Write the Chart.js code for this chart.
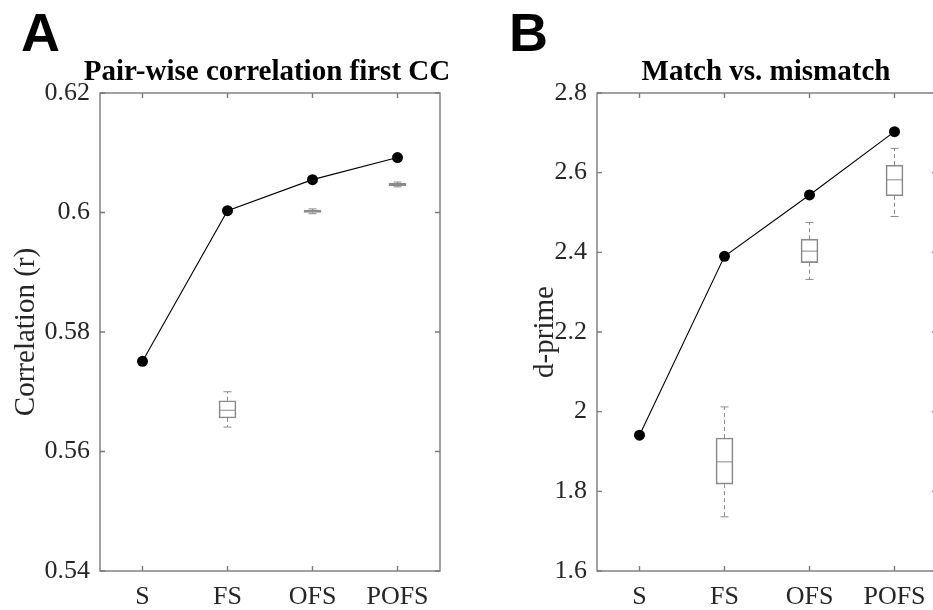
<!DOCTYPE html>
<html><head><meta charset="utf-8">
<script src="https://cdn.jsdelivr.net/npm/chart.js@4.4.0/dist/chart.umd.min.js"></script>
<style>
html,body{margin:0;padding:0;background:#fff;overflow:hidden;width:933px;height:610px;}
#wrap{position:relative;width:933px;height:610px;overflow:hidden;background:#fff;}
.cv{position:absolute;top:0;width:470px;height:610px;}
.letter{position:absolute;font-family:'Liberation Sans',Arial,sans-serif;font-weight:bold;font-size:54px;line-height:1;color:#000;}
.ttl{position:absolute;font-family:'Liberation Serif','Times New Roman',serif;font-weight:bold;font-size:29px;line-height:1;text-align:center;color:#000;white-space:nowrap;width:500px;}
</style></head><body>
<div id="wrap">
<div class="cv" style="left:0;"><canvas id="cA" width="470" height="610"></canvas></div>
<div class="cv" style="left:497px;"><canvas id="cB" width="470" height="610"></canvas></div>
<div class="letter" style="left:21px;top:5px;">A</div>
<div class="letter" style="left:509px;top:5px;">B</div>
<div class="ttl" style="left:17px;top:56px;">Pair-wise correlation first CC</div>
<div class="ttl" style="left:516px;top:56px;">Match vs. mismatch</div>
</div>
<script>
// ---- data ----
const categories = ['S', 'FS', 'OFS', 'POFS'];

// Panel A: pair-wise correlation first CC
const corrLine = [0.5751, 0.6003, 0.6055, 0.6092];
const corrMin  = [null, 0.5641, 0.5998, 0.6043];
const corrQ1   = [null, 0.5656, 0.6000, 0.6045];
const corrMed  = [null, 0.5669, 0.6002, 0.6047];
const corrQ3   = [null, 0.5685, 0.6004, 0.6049];
const corrMax  = [null, 0.5700, 0.6006, 0.6051];
const corrTicks = [0.54, 0.56, 0.58, 0.6, 0.62];

// Panel B: match vs. mismatch (d-prime)
const dLine = [1.941, 2.390, 2.544, 2.703];
const dMin  = [null, 1.736, 2.332, 2.490];
const dQ1   = [null, 1.818, 2.374, 2.542];
const dMed  = [null, 1.874, 2.403, 2.582];
const dQ3   = [null, 1.934, 2.433, 2.619];
const dMax  = [null, 2.012, 2.475, 2.661];
const dTicks = [1.6, 1.8, 2, 2.2, 2.4, 2.6, 2.8];

// ---- plugins ----
const BOXCOL = '#8a8a8a';
const boxExtras = {
  id: 'boxExtras',
  afterDatasetsDraw(chart, args, opts) {
    const {ctx, scales: {x, y}} = chart;
    ctx.save();
    ctx.strokeStyle = BOXCOL;
    ctx.lineWidth = 1;
    const half = 8.5, cap = 4;
    opts.med.forEach((m, i) => {
      if (m == null) return;
      const px = x.getPixelForValue(i);
      const yMed = y.getPixelForValue(m);
      const yMin = y.getPixelForValue(opts.min[i]);
      const yMax = y.getPixelForValue(opts.max[i]);
      const yQ1 = y.getPixelForValue(opts.q1[i]);
      const yQ3 = y.getPixelForValue(opts.q3[i]);
      ctx.setLineDash([]);
      ctx.beginPath();
      ctx.moveTo(px - half, yMed); ctx.lineTo(px + half, yMed);
      ctx.stroke();
      ctx.setLineDash([4, 3]);
      ctx.beginPath();
      ctx.moveTo(px, yQ3); ctx.lineTo(px, yMax);
      ctx.moveTo(px, yQ1); ctx.lineTo(px, yMin);
      ctx.stroke();
      ctx.setLineDash([]);
      ctx.beginPath();
      ctx.moveTo(px - cap, yMax); ctx.lineTo(px + cap, yMax);
      ctx.moveTo(px - cap, yMin); ctx.lineTo(px + cap, yMin);
      ctx.stroke();
    });
    ctx.restore();
  }
};

const framePlugin = {
  id: 'frame',
  afterDraw(chart) {
    const {ctx, chartArea: a, scales: {x, y}} = chart;
    ctx.save();
    ctx.strokeStyle = '#7a7a7a';
    ctx.lineWidth = 1.4;
    ctx.strokeRect(a.left, a.top, a.right - a.left, a.bottom - a.top);
    ctx.beginPath();
    const L = 5;
    x.ticks.forEach((t, i) => {
      const px = x.getPixelForTick(i);
      ctx.moveTo(px, a.bottom); ctx.lineTo(px, a.bottom - L);
      ctx.moveTo(px, a.top); ctx.lineTo(px, a.top + L);
    });
    y.ticks.forEach((t, i) => {
      const py = y.getPixelForTick(i);
      ctx.moveTo(a.left, py); ctx.lineTo(a.left + L, py);
      ctx.moveTo(a.right, py); ctx.lineTo(a.right - L, py);
    });
    ctx.stroke();
    ctx.restore();
  }
};

const SERIF = "'Liberation Serif','Times New Roman',serif";
const TXT = '#262626';

function makeChart(id, line, mn, q1, md, q3, mx, ticks, yTitle, titlePad) {
  const boxData = categories.map((c, i) => q1[i] == null ? null : [q1[i], q3[i]]);
  return new Chart(document.getElementById(id), {
    type: 'bar',
    data: {
      labels: categories,
      datasets: [
        {
          type: 'line',
          data: line,
          borderColor: '#000',
          borderWidth: 1.1,
          pointRadius: 5.5,
          pointHoverRadius: 5.5,
          pointBackgroundColor: '#000',
          pointBorderColor: '#000',
          pointBorderWidth: 0,
          tension: 0,
          order: 0
        },
        {
          type: 'bar',
          data: boxData,
          backgroundColor: 'rgba(0,0,0,0)',
          borderColor: BOXCOL,
          borderWidth: 1,
          borderSkipped: false,
          barThickness: 17,
          order: 1
        }
      ]
    },
    options: {
      responsive: false,
      devicePixelRatio: 1,
      animation: false,
      events: [],
      layout: {padding: {top: 93, right: 30, left: 0, bottom: 0}},
      plugins: {
        legend: {display: false},
        tooltip: {enabled: false},
        title: {display: false},
        boxExtras: {min: mn, q1: q1, med: md, q3: q3, max: mx}
      },
      scales: {
        x: {
          type: 'category',
          offset: true,
          grid: {display: false, drawTicks: false},
          border: {display: false},
          ticks: {font: {family: SERIF, size: 26}, color: TXT, padding: 11, maxRotation: 0},
          afterFit(s) { s.height = 39; }
        },
        y: {
          type: 'linear',
          min: ticks[0],
          max: ticks[ticks.length - 1],
          grid: {display: false, drawTicks: false},
          border: {display: false},
          afterBuildTicks(s) { s.ticks = ticks.map(v => ({value: v})); },
          ticks: {
            font: {family: SERIF, size: 26}, color: TXT, padding: 10,
            callback: v => String(Number(v.toFixed(2)))
          },
          title: {
            display: true, text: yTitle, color: TXT,
            font: {family: SERIF, size: 29},
            padding: {top: titlePad, bottom: 0}
          },
          afterFit(s) { s.width = 100; }
        }
      }
    },
    plugins: [boxExtras, framePlugin]
  });
}

makeChart('cA', corrLine, corrMin, corrQ1, corrMed, corrQ3, corrMax, corrTicks, 'Correlation (r)', 9);
makeChart('cB', dLine, dMin, dQ1, dMed, dQ3, dMax, dTicks, 'd-prime', 31);
</script>
</body></html>
